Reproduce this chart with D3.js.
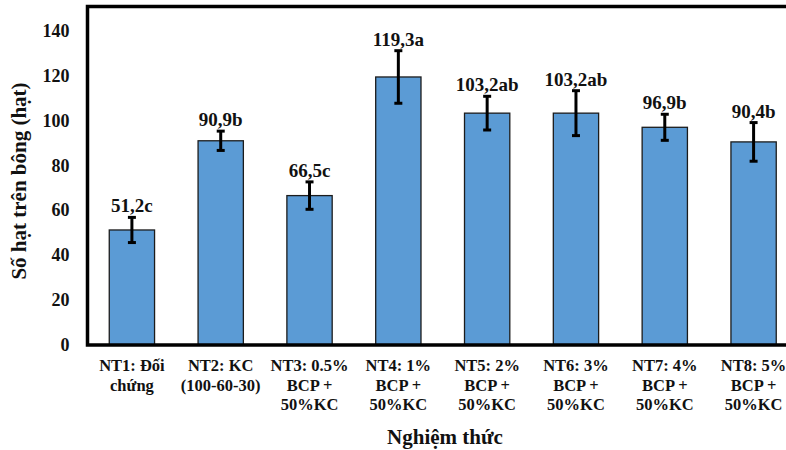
<!DOCTYPE html>
<html>
<head>
<meta charset="utf-8">
<script src="https://cdn.jsdelivr.net/npm/d3@7"></script>
<style>
  html, body { margin: 0; padding: 0; background: #fff; }
</style>
</head>
<body>
<svg id="chart" width="786" height="450"></svg>
<script>
// Treatments (each label wraps onto several lines)
const categories = [
  "NT1: Đối|chứng",
  "NT2: KC|(100-60-30)",
  "NT3: 0.5%|BCP +|50%KC",
  "NT4: 1%|BCP +|50%KC",
  "NT5: 2%|BCP +|50%KC",
  "NT6: 3%|BCP +|50%KC",
  "NT7: 4%|BCP +|50%KC",
  "NT8: 5%|BCP +|50%KC"
];
// Grains per panicle, standard error and significance letters
const values = [51.2, 90.9, 66.5, 119.3, 103.2, 103.2, 96.9, 90.4];
const errors = [5.6, 4.3, 6.1, 11.7, 7.5, 10.0, 5.8, 8.6];
const letters = ["c", "b", "c", "a", "ab", "ab", "b", "b"];
const yTicks = [0, 20, 40, 60, 80, 100, 120, 140];

const FONT = "Liberation Serif";
const svg = d3.select("#chart")
  .style("font-family", FONT)
  .style("font-weight", "bold");
const plotLeft = 87.5, plotRight = 798, plotTop = 8, plotBottom = 345;

const x = d3.scaleBand()
  .domain(categories)
  .range([plotLeft, plotRight])
  .paddingInner(0.49)
  .paddingOuter(0.245);

const y = d3.scaleLinear().domain([0, 150]).range([plotBottom, plotTop]);

const fmt = v => v.toFixed(1).replace(".", ",");

// Bars
svg.append("g").selectAll("rect")
  .data(categories)
  .join("rect")
  .attr("x", d => x(d))
  .attr("width", x.bandwidth())
  .attr("y", (d, i) => y(values[i]))
  .attr("height", (d, i) => y(0) - y(values[i]))
  .attr("fill", "#5B9BD5")
  .attr("stroke", "#1c1c1c")
  .attr("stroke-width", 1.3);

// Error bars
const eb = svg.append("g").attr("stroke", "#000").attr("stroke-width", 3);
categories.forEach((c, i) => {
  const cx = x(c) + x.bandwidth() / 2;
  const hi = y(values[i] + errors[i]), lo = y(values[i] - errors[i]);
  eb.append("line").attr("x1", cx).attr("x2", cx).attr("y1", hi).attr("y2", lo);
  eb.append("line").attr("x1", cx - 4).attr("x2", cx + 4).attr("y1", hi).attr("y2", hi);
  eb.append("line").attr("x1", cx - 4).attr("x2", cx + 4).attr("y1", lo).attr("y2", lo);
});

// Value labels with letters
svg.append("g").selectAll("text")
  .data(categories)
  .join("text")
  .attr("x", d => x(d) + x.bandwidth() / 2)
  .attr("y", (d, i) => y(values[i] + errors[i]) - 5)
  .attr("text-anchor", "middle")
  .style("font-family", FONT)
  .attr("font-size", 19)
  .attr("fill", "#111")
  .text((d, i) => fmt(values[i]) + letters[i]);

// Frame: left, top and bottom lines
const frame = svg.append("g").attr("stroke", "#000").attr("stroke-width", 3.5).attr("fill", "none");
frame.append("path")
  .attr("d", `M${plotRight},${y(150) - 1.5}H${plotLeft}V${plotBottom}H${plotRight}`);

// Y axis tick labels
const yAxis = svg.append("g")
  .attr("transform", `translate(${plotLeft},0)`)
  .call(d3.axisLeft(y).tickValues(yTicks).tickSize(0).tickPadding(18));
yAxis.attr("font-family", null).attr("font-size", null);
yAxis.select(".domain").remove();
yAxis.selectAll("text")
  .style("font-family", FONT)
  .attr("font-size", 18)
  .attr("fill", "#111");

// X axis category labels
const xl = svg.append("g");
categories.forEach(c => {
  const t = xl.append("text")
    .attr("x", x(c) + x.bandwidth() / 2)
    .attr("y", plotBottom + 26)
    .attr("text-anchor", "middle")
    .style("font-family", FONT)
    .attr("font-size", 16.5)
    .attr("fill", "#111");
  c.split("|").forEach((line, k) => {
    t.append("tspan")
      .attr("x", x(c) + x.bandwidth() / 2)
      .attr("dy", k === 0 ? 0 : 19.7)
      .text(line);
  });
});

// Axis titles
svg.append("text")
  .attr("x", 445).attr("y", 444)
  .attr("text-anchor", "middle")
  .style("font-family", FONT)
  .attr("font-size", 21)
  .attr("fill", "#111")
  .text("Nghiệm thức");

svg.append("text")
  .attr("transform", "translate(26,181) rotate(-90)")
  .attr("text-anchor", "middle")
  .style("font-family", FONT)
  .attr("font-size", 21)
  .attr("fill", "#111")
  .text("Số hạt trên bông (hạt)");
</script>
</body>
</html>
